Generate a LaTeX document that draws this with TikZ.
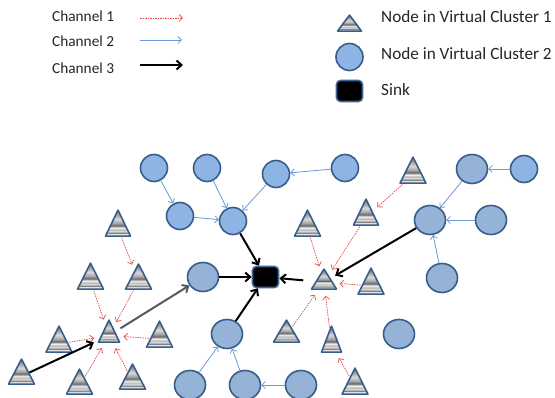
\documentclass[tikz,border=0pt]{standalone}
\usepackage{fontspec}
\setmainfont{Carlito}
\usetikzlibrary{shapes.geometric,arrows.meta}
\definecolor{nodeborder}{HTML}{385D8A}
\definecolor{sinkborder}{HTML}{3F6594}
\definecolor{bluelight}{HTML}{8DB4E2}
\definecolor{bluegray}{HTML}{95B3D7}
\definecolor{chred}{HTML}{E84848}
\definecolor{chblue}{HTML}{6C9AD4}
\definecolor{chgray}{HTML}{595959}
\definecolor{txt}{HTML}{262626}
\pgfdeclareverticalshading{tristripe}{100bp}{color(0bp)=(black!22); color(25bp)=(black!22); color(28.5bp)=(white); color(31bp)=(black!55); color(34bp)=(black!12); color(37.5bp)=(black!30); color(41bp)=(white); color(45bp)=(black!60); color(50bp)=(black!35); color(57.5bp)=(black!15); color(67.5bp)=(black!40); color(75bp)=(black!50); color(100bp)=(black!50)}
\tikzset{
  cl1/.style={ellipse, draw=nodeborder, line width=1.6pt, fill=bluelight, minimum width=27pt, minimum height=27pt, inner sep=0pt},
  cl2/.style={cl1, fill=bluegray, minimum width=31pt, minimum height=29pt},
  tri/.style={isosceles triangle, isosceles triangle stretches, shape border rotate=90, draw=nodeborder, line width=1.6pt, line join=round, shade, shading=tristripe, anchor=apex, minimum width=26pt, minimum height=26pt, inner sep=0pt},
  sinkbox/.style={rectangle, rounded corners=4pt, fill=black, draw=sinkborder, line width=1.6pt, minimum width=26pt, minimum height=21pt, inner sep=0pt},
  ch1/.style={draw=chred, line width=0.7pt, dash pattern=on 1.5pt off 1pt, -{Straight Barb[length=3.5pt,width=7pt]}, shorten >=6pt, shorten <=1pt},
  ch2/.style={draw=chblue, line width=0.8pt, -{Straight Barb[length=3.5pt,width=7pt]}},
  ch3/.style={draw=black, line width=2pt, -{Straight Barb[length=5pt,width=9pt]}},
  ch3g/.style={ch3, draw=chgray},
  lbl1/.style={anchor=west, inner sep=0pt, text=txt, font=\fontsize{15.3}{18}\selectfont},
  lbl2/.style={anchor=west, inner sep=0pt, text=txt, font=\fontsize{17.2}{20}\selectfont},
}
\begin{document}
\begin{tikzpicture}[x=1pt,y=-1pt]
\useasboundingbox[fill=white] (0,0) rectangle (555,398);
% legend left
\node[lbl1] (t1) at (52,16) {Channel 1};
\node[lbl1] (t2) at (52,41) {Channel 2};
\node[lbl1] (t3) at (52,68) {Channel 3};
\coordinate (l1a) at (140,18); \coordinate (l1b) at (183,18);
\coordinate (l2a) at (140,40); \coordinate (l2b) at (182,40);
\coordinate (l3a) at (140,65); \coordinate (l3b) at (183,65);
\draw[ch1, shorten >=0pt, shorten <=0pt] (l1a) -- (l1b);
\draw[ch2] (l2a) -- (l2b);
\draw[ch3] (l3a) -- (l3b);
% legend right
\node[tri, minimum width=24pt, minimum height=16pt] (lgT) at (349.5,13) {};
\node[cl1] (lgC) at (349.5,57) {};
\node[sinkbox] (lgS) at (349.5,91) {};
\node[lbl2] (t4) at (381,17) {Node in Virtual Cluster 1};
\node[lbl2] (t5) at (381,54) {Node in Virtual Cluster 2};
\node[lbl2] (t6) at (381,90) {Sink};
% circles
\node[cl1] (ca) at (154,168) {};
\node[cl1] (cb) at (207,168) {};
\node[cl1] (cc) at (276,174) {};
\node[cl1] (cd) at (345,168) {};
\node[cl1] (ce) at (180,216) {};
\node[cl1] (cf) at (233,221) {};
\node[cl2] (cD) at (472,169) {};
\node[cl1] (cE) at (524,169) {};
\node[cl2] (cF) at (430,220) {};
\node[cl2] (cG) at (491,220) {};
\node[cl2] (cH) at (442,278) {};
\node[cl2] (cI) at (399,334) {};
\node[cl2] (cJ) at (203,277) {};
\node[cl2] (cK) at (227,334) {};
\node[cl2] (cL) at (190,385) {};
\node[cl2] (cM) at (245,385) {};
\node[cl2] (cN) at (301,385) {};
% sink
\node[sinkbox] (sink) at (265.5,277) {};
% triangles right
\node[tri] (tA) at (413,155) {};
\node[tri, minimum width=25pt] (tB) at (366,197) {};
\node[tri] (tC) at (307.5,208) {};
\node[tri, minimum width=25pt, minimum height=20pt] (hubR) at (324,267) {};
\node[tri] (tR1) at (371,266) {};
\node[tri, minimum height=22pt] (tR2) at (286.5,318) {};
\node[tri, minimum width=20pt] (tR3) at (331.5,324) {};
\node[tri] (tR4) at (355,366) {};
% triangles left
\node[tri, minimum width=25pt] (tL1) at (118,208) {};
\node[tri] (tL2) at (90.5,261) {};
\node[tri, minimum height=25pt] (tL3) at (138.5,262) {};
\node[tri, minimum width=21pt, minimum height=22pt] (hubL) at (109,318) {};
\node[tri] (tL4) at (59,324) {};
\node[tri] (tL5) at (159.5,319) {};
\node[tri, minimum height=25pt] (tL6) at (21.5,357) {};
\node[tri, minimum height=25pt] (tL7) at (79.5,367) {};
\node[tri, minimum height=25pt] (tL8) at (132.5,362) {};
% channel 2
\draw[ch2] (ca) -- (ce);
\draw[ch2] (cb) -- (cf);
\draw[ch2] (cc) -- (cf);
\draw[ch2] (cd) -- (cc);
\draw[ch2] (ce) -- (cf);
\draw[ch2] (cE) -- (cD);
\draw[ch2] (cD) -- (cF);
\draw[ch2] (cG) -- (cF);
\draw[ch2] (cH) -- (cF);
\draw[ch2] (cL) -- (cK);
\draw[ch2] (cM) -- (cK);
\draw[ch2] (cN) -- (cM);
% channel 1
\draw[ch1] (tA) -- (tB);
\draw[ch1] (tB) -- (hubR);
\draw[ch1] (tC) -- (hubR);
\draw[ch1] (tR1) -- (hubR);
\draw[ch1] (tR2) -- (hubR);
\draw[ch1] (tR3) -- (hubR);
\draw[ch1] (tR4) -- (tR3);
\draw[ch1] (tL1) -- (tL3);
\draw[ch1] (tL2) -- (hubL);
\draw[ch1] (tL3) -- (hubL);
\draw[ch1] (tL4) -- (hubL);
\draw[ch1] (tL5) -- (hubL);
\draw[ch1] (tL7) -- (hubL);
\draw[ch1] (tL8) -- (hubL);
% channel 3
\draw[ch3] (cf) -- (sink);
\draw[ch3] (cJ) -- (sink);
\draw[ch3] (cK) -- (sink);
\draw[ch3, shorten <=12pt] (hubR) -- (sink);
\draw[ch3, shorten >=5pt] (cF) -- (hubR);
\draw[ch3, shorten >=5pt] (tL6) -- (hubL);
\draw[ch3g, shorten <=6pt] (hubL) -- (cJ);
\end{tikzpicture}
\end{document}
